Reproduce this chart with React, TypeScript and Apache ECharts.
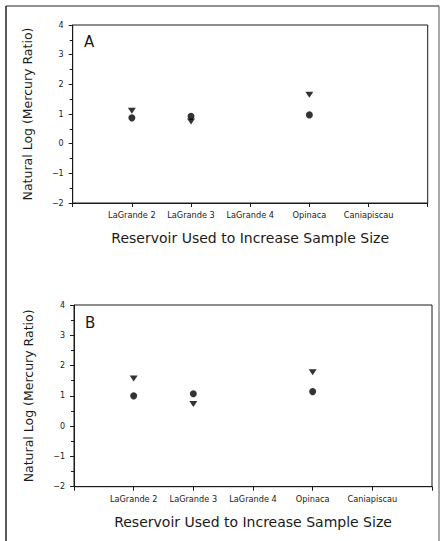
import React, { useEffect, useRef } from "react";
import * as echarts from "echarts";

const categories = ["LaGrande 2", "LaGrande 3", "LaGrande 4", "Opinaca", "Caniapiscau"];
const yTicks = [-2, -1, 0, 1, 2, 3, 4];
// Panel A values (null = no data)
const aTriangle = [1.11, 0.75, null, 1.65, null];
const aCircle = [0.87, 0.92, null, 0.97, null];
// Panel B values
const bTriangle = [1.57, 0.73, null, 1.78, null];
const bCircle = [1.0, 1.07, null, 1.14, null];

const FONT = "DejaVu Sans";
const INK = "#1a1a1a";

function toPoints(vals: (number | null)[]) {
  const out: [number, number][] = [];
  vals.forEach((v, i) => {
    if (v !== null) out.push([i + 1, v]);
  });
  return out;
}

export default function App() {
  const ref = useRef<HTMLDivElement>(null);
  useEffect(() => {
    if (!ref.current) return;
    const chart = echarts.init(ref.current, null, { renderer: "svg" });
    const grids = [
      { left: 72.7, top: 25, width: 355, height: 178 },
      { left: 74, top: 305, width: 358, height: 181.7 },
    ];
    const xAxis = grids.map((_, gi) => ({
      type: "value",
      gridIndex: gi,
      min: 0,
      max: categories.length + 1,
      interval: 1,
      name: "Reservoir Used to Increase Sample Size",
      nameLocation: "middle",
      nameGap: 28,
      nameTextStyle: { fontFamily: FONT, fontSize: 14, color: INK },
      axisLine: { show: true, onZero: false, lineStyle: { color: INK, width: 1 } },
      axisTick: { show: true, inside: false, length: 4, lineStyle: { color: INK } },
      splitLine: { show: false },
      axisLabel: {
        fontFamily: FONT,
        fontSize: 8.2,
        color: INK,
        margin: 8,
        showMinLabel: true,
        showMaxLabel: true,
        formatter: (v: number) => (v >= 1 && v <= categories.length ? categories[v - 1] : ""),
      },
    }));
    const yAxis = grids.map((_, gi) => ({
      type: "value",
      gridIndex: gi,
      min: yTicks[0],
      max: yTicks[yTicks.length - 1],
      interval: 1,
      name: "Natural Log (Mercury Ratio)",
      nameLocation: "middle",
      nameGap: 39,
      nameTextStyle: { fontFamily: FONT, fontSize: 12.5, color: INK },
      axisLine: { show: true, lineStyle: { color: INK, width: 1 } },
      axisTick: { show: true, inside: false, length: 4, lineStyle: { color: INK } },
      minorTick: { show: true, splitNumber: 2, length: 3, lineStyle: { color: INK } },
      splitLine: { show: false },
      axisLabel: {
        fontFamily: FONT,
        fontSize: 8,
        color: INK,
        margin: 9,
        formatter: (v: number) => (v < 0 ? "\u2212" + Math.abs(v) : String(v)),
      },
    }));
    const mk = (data: (number | null)[], gi: number, tri: boolean) => ({
      type: "scatter",
      xAxisIndex: gi,
      yAxisIndex: gi,
      data: toPoints(data),
      symbol: tri ? "triangle" : "circle",
      symbolRotate: tri ? 180 : 0,
      symbolSize: tri ? [8, 6] : 7,
      itemStyle: { color: "#000" },
    });
    chart.setOption({
      animation: false,
      backgroundColor: "#fff",
      grid: grids.map((g) => ({ ...g, show: true, borderColor: INK, borderWidth: 1, backgroundColor: "transparent" })),
      xAxis,
      yAxis,
      series: [
        mk(aTriangle, 0, true),
        mk(aCircle, 0, false),
        mk(bTriangle, 1, true),
        mk(bCircle, 1, false),
      ],
      graphic: [
        { type: "text", left: 84, top: 34, style: { text: "A", font: `15px ${FONT}`, fill: INK } },
        { type: "text", left: 85, top: 315, style: { text: "B", font: `15px ${FONT}`, fill: INK } },
        { type: "line", shape: { x1: 6, y1: 6, x2: 439, y2: 6 }, style: { stroke: "#222", lineWidth: 1 } },
        { type: "line", shape: { x1: 6, y1: 6, x2: 6, y2: 541 }, style: { stroke: "#222", lineWidth: 1.5 } },
        { type: "line", shape: { x1: 439, y1: 6, x2: 439, y2: 541 }, style: { stroke: "#555", lineWidth: 1 } },
      ],
    });
    return () => chart.dispose();
  }, []);
  return <div ref={ref} style={{ position: "fixed", left: 0, top: 0, width: 441, height: 541 }} />;
}
